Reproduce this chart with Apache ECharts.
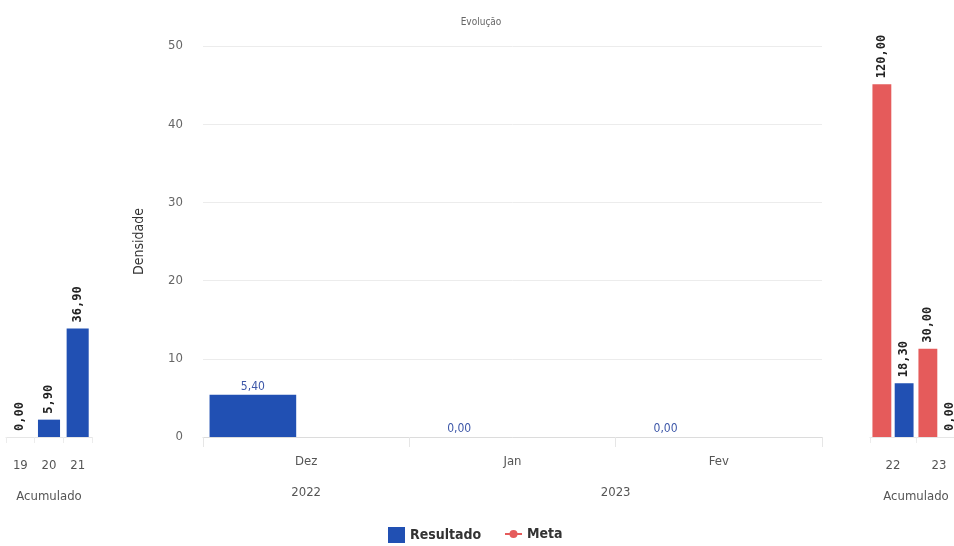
<!DOCTYPE html>
<html>
<head>
<meta charset="utf-8">
<script src="https://cdn.jsdelivr.net/npm/echarts@6/dist/echarts.min.js"></script>
<style>
html,body{margin:0;padding:0;background:#fff;overflow:hidden;width:954px;height:546px;}
#chart{width:962px;height:546px;}
</style>
</head>
<body>
<div id="chart"></div>
<script>
// ---- data ----
const months = ['Dez', 'Jan', 'Fev'];
const yearLabels = ['', '2022', '', '', '2023', '', ''];
const resultado = [5.4, 0, 0];
const meta = [null, null, null];
const leftCats = ['19', '20', '21'];
const leftResultado = [0, 5.9, 36.9];
const rightCats = ['22', '23'];
const rightMeta = [120, 30];
const rightResultado = [18.3, 0];
const titleText = 'Evolução';
const yName = 'Densidade';
const accName = 'Acumulado';

const BLUE = '#2150b3';
const RED = '#e55b5b';
const FONT = "'DejaVu Sans Condensed', 'Liberation Sans', sans-serif";
const MONO = "'DejaVu Sans Mono', monospace";
const fmt = v => (v == null ? '' : Number(v).toFixed(2).replace('.', ','));

const TOP = 46, BOTTOM = 109;
const ACC_MAX = 133;

const rotLabel = {
  show: true, position: 'top', rotate: 90, align: 'left', verticalAlign: 'middle',
  distance: 6, fontFamily: MONO, fontWeight: 'bold', fontSize: 12, color: '#222',
  formatter: p => fmt(p.value)
};
const legendText = {fontSize: 14, fontWeight: 'bold', color: '#333', fontFamily: FONT};

const chart = echarts.init(document.getElementById('chart'), null, {renderer: 'canvas'});
chart.setOption({
  animation: false,
  backgroundColor: '#fff',
  title: {
    text: titleText, left: 'center', top: 12,
    textStyle: {fontSize: 10, fontWeight: 'normal', color: '#666', fontFamily: FONT}
  },
  legend: [
    {
      left: 383, top: 522, itemWidth: 17, itemHeight: 16,
      data: [{name: 'Resultado', icon: 'rect'}], textStyle: legendText
    },
    {
      left: 499, top: 522, itemWidth: 17, itemHeight: 10,
      data: [{name: 'Meta'}], textStyle: legendText
    }
  ],
  grid: [
    {left: 203, right: 140, top: TOP, bottom: BOTTOM},
    {left: 6, width: 86, top: TOP, bottom: BOTTOM},
    {left: 870, width: 92, top: TOP, bottom: BOTTOM}
  ],
  xAxis: [
    {
      type: 'category', gridIndex: 0, data: months,
      axisLine: {lineStyle: {color: '#dcdcdc'}},
      axisTick: {show: true, length: 10, lineStyle: {color: '#e6e6e6'}},
      axisLabel: {color: '#555', fontSize: 13, margin: 18, fontFamily: FONT}
    },
    {
      type: 'category', gridIndex: 0, data: yearLabels, boundaryGap: false, position: 'bottom',
      axisLine: {show: false}, axisTick: {show: false},
      axisLabel: {interval: 0, color: '#555', fontSize: 13, margin: 49, fontFamily: FONT}
    },
    {
      type: 'category', gridIndex: 1, data: leftCats,
      name: accName, nameLocation: 'middle', nameGap: 53,
      nameTextStyle: {color: '#555', fontSize: 13, fontFamily: FONT},
      axisLine: {lineStyle: {color: '#e6e6e6'}},
      axisTick: {show: true, length: 6, lineStyle: {color: '#ececec'}},
      axisLabel: {color: '#555', fontSize: 13, margin: 22, fontFamily: FONT}
    },
    {
      type: 'category', gridIndex: 2, data: rightCats,
      name: accName, nameLocation: 'middle', nameGap: 53,
      nameTextStyle: {color: '#555', fontSize: 13, fontFamily: FONT},
      axisLine: {lineStyle: {color: '#e6e6e6'}},
      axisTick: {show: true, length: 6, lineStyle: {color: '#ececec'}},
      axisLabel: {color: '#555', fontSize: 13, margin: 22, fontFamily: FONT}
    }
  ],
  yAxis: [
    {
      type: 'value', gridIndex: 0, min: 0, max: 50, interval: 10,
      name: yName, nameLocation: 'middle', nameGap: 57,
      nameTextStyle: {color: '#333', fontSize: 14, fontFamily: FONT},
      axisLine: {show: false}, axisTick: {show: false},
      axisLabel: {color: '#666', fontSize: 13, margin: 20, fontFamily: FONT},
      splitLine: {lineStyle: {color: '#ececec'}}
    },
    {type: 'value', gridIndex: 1, min: 0, max: ACC_MAX, show: false, splitLine: {show: false}},
    {type: 'value', gridIndex: 2, min: 0, max: ACC_MAX, show: false, splitLine: {show: false}}
  ],
  series: [
    {
      name: 'Meta', type: 'line', xAxisIndex: 0, yAxisIndex: 0, data: meta,
      color: RED, symbol: 'circle', symbolSize: 6, lineStyle: {color: RED, width: 2}
    },
    {
      name: 'Resultado', type: 'bar', xAxisIndex: 0, yAxisIndex: 0, data: resultado,
      color: BLUE, barWidth: '42%', barGap: '23%',
      label: {show: true, position: 'top', distance: 2, color: '#3d57a8', fontSize: 12, fontFamily: FONT,
        formatter: p => fmt(p.value)}
    },
    {
      name: 'Meta', type: 'bar', xAxisIndex: 0, yAxisIndex: 0, data: meta,
      color: RED, barWidth: '42%', barGap: '23%'
    },
    {
      name: 'Resultado', type: 'bar', xAxisIndex: 2, yAxisIndex: 1, data: leftResultado,
      color: BLUE, barWidth: '77%', label: rotLabel
    },
    {
      name: 'Meta', type: 'bar', xAxisIndex: 3, yAxisIndex: 2, data: rightMeta,
      color: RED, barWidth: '41%', barGap: '18%', label: rotLabel
    },
    {
      name: 'Resultado', type: 'bar', xAxisIndex: 3, yAxisIndex: 2, data: rightResultado,
      color: BLUE, barWidth: '41%', barGap: '18%', label: rotLabel
    }
  ]
});
</script>
</body>
</html>
